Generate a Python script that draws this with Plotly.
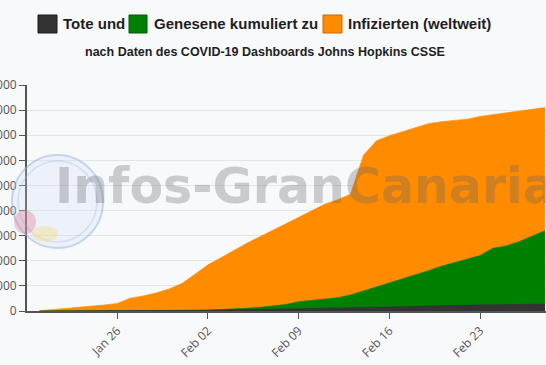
import plotly.graph_objects as go
import pandas as pd

# ---------------- data ----------------
dates = pd.date_range("2020-01-20", "2020-02-28", freq="D").strftime("%Y-%m-%d").tolist()

infected = [100, 500, 1000, 1500, 2000, 2400, 3000, 5100, 6000, 7200,
            8800, 11000, 14600, 18400, 21200, 24200, 27000, 29600, 32000, 34700,
            37300, 39800, 42500, 44300, 46500, 62000, 67800, 69800, 71500, 73200,
            74600, 75400, 75900, 76400, 77500, 78200, 78700, 79400, 80200, 81000]

recovered = [0, 0, 10, 30, 40, 40, 50, 60, 100, 110,
             130, 170, 250, 350, 550, 800, 1100, 1450, 2000, 2600,
             3700, 4300, 4800, 5300, 6400, 8000, 9500, 11000, 12800, 14500,
             16000, 17800, 19200, 20500, 22100, 25000, 25900, 27600, 29800, 32000]

deaths = [0, 5, 15, 20, 30, 45, 60, 85, 130, 135,
          170, 215, 260, 300, 360, 430, 490, 565, 640, 720,
          810, 910, 1020, 1110, 1260, 1380, 1520, 1670, 1770, 1870,
          2010, 2130, 2250, 2360, 2460, 2470, 2630, 2710, 2770, 2810]

legend_labels = ["Tote und", "Genesene kumuliert zu", "Infizierten (weltweit)"]
subtitle = "nach Daten des COVID-19 Dashboards Johns Hopkins CSSE"
watermark = "Infos-GranCanaria"

y_ticks = list(range(0, 90001, 10000))

# ---------------- styling ----------------
W, H = 546, 365
L, R, T, B = 27, 0, 85, 54
PW, PH = W - L - R, H - T - B
BG = "#f8f9fb"
C_ORANGE, C_GREEN, C_DARK = "#ff8c00", "#008000", "#333333"


def px(x):
    return (x - L) / PW


def py(y):
    return (H - B - y) / PH


fig = go.Figure()
for name, vals, col in [(legend_labels[2], infected, C_ORANGE),
                        (legend_labels[1], recovered, C_GREEN),
                        (legend_labels[0], deaths, C_DARK)]:
    fig.add_trace(go.Scatter(x=dates, y=vals, name=name, mode="lines",
                             line=dict(color=col, width=0.6),
                             fill="tozeroy", fillcolor=col, showlegend=False))

shapes = []
annotations = []

# legend built from squares + labels
legend_items = [(38, 57, 61, C_DARK, "#1a1a1a"),
                (129, 147, 152, C_GREEN, "#005a00"),
                (323, 342, 346, C_ORANGE, "#c86800")]
for (x0, x1, tx, col, border), label in zip(legend_items, legend_labels):
    shapes.append(dict(type="rect", xref="paper", yref="paper",
                       x0=px(x0), x1=px(x1), y0=py(33), y1=py(15),
                       fillcolor=col, line=dict(color=border, width=1)))
    annotations.append(dict(text=label, xref="paper", yref="paper",
                            x=px(tx), y=py(24), xanchor="left", yanchor="middle",
                            showarrow=False,
                            font=dict(family="Liberation Sans, Arial", size=15,
                                      color="#1e1e1e", weight="bold")))

annotations.append(dict(text=subtitle, xref="paper", yref="paper",
                        x=px(265), y=py(52), xanchor="center", yanchor="middle",
                        showarrow=False,
                        font=dict(family="Liberation Sans, Arial", size=12.5,
                                  color="#1e1e1e", weight="bold")))

# faint logo (circle + blobs)
shapes.append(dict(type="circle", xref="paper", yref="paper",
                   x0=px(12), x1=px(103), y0=py(248), y1=py(155),
                   fillcolor="rgba(205,220,245,0.25)",
                   line=dict(color="rgba(140,170,225,0.45)", width=2)))
shapes.append(dict(type="circle", xref="paper", yref="paper",
                   x0=px(18), x1=px(97), y0=py(242), y1=py(161),
                   fillcolor="rgba(0,0,0,0)",
                   line=dict(color="rgba(160,185,230,0.35)", width=1.5)))
shapes.append(dict(type="circle", xref="paper", yref="paper",
                   x0=px(14), x1=px(36), y0=py(234), y1=py(210),
                   fillcolor="rgba(220,120,140,0.35)", line=dict(width=0)))
shapes.append(dict(type="circle", xref="paper", yref="paper",
                   x0=px(32), x1=px(58), y0=py(242), y1=py(226),
                   fillcolor="rgba(245,225,140,0.45)", line=dict(width=0)))

# watermark
annotations.append(dict(text=watermark, xref="paper", yref="paper",
                        x=px(53), y=py(186), xanchor="left", yanchor="middle",
                        showarrow=False,
                        font=dict(family="DejaVu Sans", size=49,
                                  color="rgba(100,100,100,0.31)", weight="bold")))

fig.update_layout(
    width=W, height=H,
    margin=dict(l=L, r=R, t=T, b=B, pad=0),
    paper_bgcolor=BG, plot_bgcolor=BG,
    showlegend=False,
    shapes=shapes, annotations=annotations,
    xaxis=dict(type="date",
               range=["2020-01-19 01:00", "2020-02-28 02:00"],
               tick0="2020-01-26", dtick=7 * 24 * 3600 * 1000,
               tickformat="%b %d", tickangle=-45,
               showgrid=False, zeroline=False,
               showline=True, linecolor="#555555", linewidth=2,
               ticks="outside", ticklen=6, tickcolor="#555555", tickwidth=1,
               tickfont=dict(family="Open Sans, Liberation Sans", size=12, color="#555555"),
               automargin=False),
    yaxis=dict(range=[0, 90000], tickvals=y_ticks, tickformat="d",
               showgrid=True, gridcolor="#e4e4e6", gridwidth=1,
               zeroline=False,
               showline=True, linecolor="#555555", linewidth=2,
               ticks="outside", ticklen=6, tickcolor="#555555", tickwidth=1,
               tickfont=dict(family="Open Sans, Liberation Sans", size=12, color="#555555"),
               automargin=False),
)

fig.write_html("out.html", config={"displayModeBar": False},
               post_script="document.body.style.margin='0';document.body.style.overflow='hidden';")
